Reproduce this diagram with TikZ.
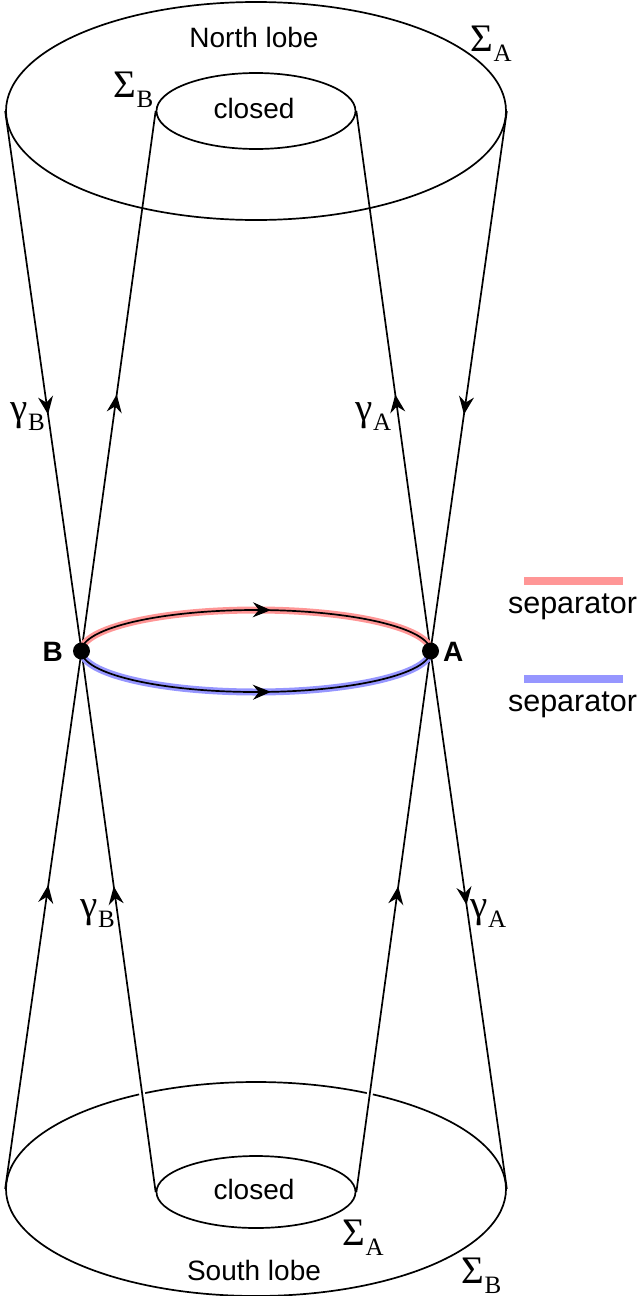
\documentclass[tikz,border=0pt]{standalone}
\usepackage{fontspec}
\setmainfont{Liberation Serif}
\setsansfont{Liberation Sans}
\usetikzlibrary{shapes.geometric,arrows.meta,decorations.markings}
\definecolor{sepred}{RGB}{255,150,150}
\definecolor{sepblue}{RGB}{150,150,255}
\newcommand{\glab}[2]{{\fontsize{39}{39}\selectfont #1}{\fontsize{25}{25}\selectfont\raisebox{-10pt}{#2}}}
\tikzset{
  midarr/.style={postaction={decorate},
    decoration={markings, mark=at position #1 with {\arrow{Stealth[length=18pt,width=15pt,inset=6pt]}}}},
  lobe/.style={ellipse, draw, inner sep=0pt},
  dotnode/.style={circle, fill=black, inner sep=0pt, minimum size=17pt},
  sanslab/.style={font=\fontsize{28}{28}\selectfont\sffamily},
  seplab/.style={font=\fontsize{30.5}{30.5}\selectfont\sffamily},
  ptlab/.style={font=\fontsize{28}{28}\selectfont\sffamily\bfseries},
  gaplines/.style={preaction={draw=white, line width=6pt, shorten <=15pt, shorten >=40pt}}
}
\begin{document}
\begin{tikzpicture}[x=1pt,y=-1pt,line width=1.7pt]
\useasboundingbox (0,0) rectangle (641,1296);
% lobes
\node[lobe, minimum width=500pt, minimum height=218pt] (NO) at (256,111) {};
\node[lobe, minimum width=199pt, minimum height=76pt] (NI) at (256,111) {};
\node[lobe, minimum width=500pt, minimum height=214pt] (SO) at (256,1189) {};
\node[lobe, minimum width=199pt, minimum height=72pt] (SI) at (256,1192) {};
% null points
\coordinate (B) at (81.5,651);
\coordinate (A) at (430.5,651);
% spine / fan lines
\draw[midarr=0.562] (NO.west) -- (B);
\draw[midarr=0.475] (B) -- (NI.west);
\draw[midarr=0.565] (SO.west) -- (B);
\draw[gaplines, midarr=0.565] (SI.west) -- (B);
\draw[midarr=0.562] (NO.east) -- (A);
\draw[midarr=0.475] (A) -- (NI.east);
\draw[gaplines, midarr=0.565] (SI.east) -- (A);
\draw[midarr=0.472] (A) -- (SO.east);
% separators
\draw[sepred, line width=7pt] (B) arc[start angle=180, end angle=360, x radius=174.5, y radius=41];
\draw[sepblue, line width=7pt] (B) arc[start angle=180, end angle=0, x radius=174.5, y radius=41];
\draw[midarr=0.54] (B) arc[start angle=180, end angle=360, x radius=174.5, y radius=41];
\draw[midarr=0.54] (B) arc[start angle=180, end angle=0, x radius=174.5, y radius=41];
\node[dotnode] (Bdot) at (B) {};
\node[dotnode] (Adot) at (A) {};
\node[ptlab, anchor=base east] (Blab) at (67,661) {B};
\node[ptlab, anchor=base west] (Alab) at (439,661) {A};
% texts
\node[sanslab, anchor=base] (north) at (254,47) {North lobe};
\node[sanslab, anchor=base] (closedN) at (254,118) {closed};
\node[sanslab, anchor=base] (closedS) at (254,1199) {closed};
\node[sanslab, anchor=base] (south) at (254,1280) {South lobe};
\node[anchor=base west, inner sep=0pt] (SAn) at (470,51) {\glab{Σ}{A}};
\node[anchor=base west, inner sep=0pt] (SBn) at (113,97) {\glab{Σ}{B}};
\node[anchor=base west, inner sep=0pt] (SAs) at (342,1245) {\glab{Σ}{A}};
\node[anchor=base west, inner sep=0pt] (SBs) at (461,1283) {\glab{Σ}{B}};
\node[anchor=base west, inner sep=0pt] (gBn) at (10,420) {\glab{γ}{B}};
\node[anchor=base west, inner sep=0pt] (gAn) at (355,420) {\glab{γ}{A}};
\node[anchor=base west, inner sep=0pt] (gBs) at (80,917) {\glab{γ}{B}};
\node[anchor=base west, inner sep=0pt] (gAs) at (470,917) {\glab{γ}{A}};
% legend
\node[seplab, anchor=base] (L1) at (572.5,613) {separator};
\node[seplab, anchor=base] (L2) at (572.5,711) {separator};
\draw[sepred, line width=8pt] (524,581) -- (623,581);
\draw[sepblue, line width=8pt] (524,679) -- (623,679);
\end{tikzpicture}
\end{document}
